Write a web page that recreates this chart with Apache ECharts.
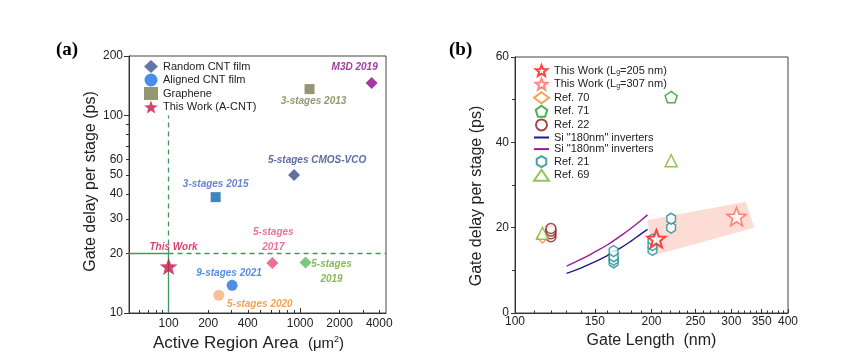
<!DOCTYPE html>
<html><head><meta charset="utf-8">
<script src="https://cdn.jsdelivr.net/npm/echarts@6/dist/echarts.min.js"></script>
<style>html,body{margin:0;padding:0;background:#fff}#c{width:865px;height:362px}</style>
</head><body><div id="c"></div>
<script>
// ---------- Panel (a) data ----------
const randomCNT_x = [900, 3500, 615, 1100];
const randomCNT_y = [50, 146, 17.9, 18];
const randomCNT_labels = ['5-stages CMOS-VCO', 'M3D 2019', '5-stages\n2017', '5-stages\n2019'];
const alignedCNT_x = [304, 241];
const alignedCNT_y = [13.8, 12.3];
const alignedCNT_labels = ['9-stages 2021', '5-stages 2020'];
const graphene_x = [1180, 228];
const graphene_y = [136, 38.6];
const graphene_labels = ['3-stages 2013', '3-stages 2015'];
const thisWorkA_x = [100];
const thisWorkA_y = [17.2];
const thisWorkA_labels = ['This Work'];
const refAreaX = 100;      // threshold area (µm²)
const refDelayY = 20;      // threshold delay (ps)
const aXLabels = [100, 200, 400, 1000, 2000, 4000];
const aYLabels = [10, 20, 30, 40, 50, 60, 100, 200];

// ---------- Panel (b) data ----------
const tw205_x = [205], tw205_y = [17.4];
const tw307_x = [308], tw307_y = [22.6];
const ref70_x = [115], ref70_y = [17.7];
const ref71_x = [221], ref71_y = [50.6];
const ref22_x = [120, 120, 120, 120], ref22_y = [17.9, 18.6, 19.2, 19.8];
const siA_x = [130, 140, 150, 160, 170, 180, 190, 196];
const siA_y = [9.3, 10.6, 12.0, 13.5, 15.1, 16.8, 18.6, 19.6];
const siB_x = [130, 140, 150, 160, 170, 180, 190, 196];
const siB_y = [11.0, 12.6, 14.3, 16.0, 17.9, 19.8, 21.8, 23.0];
const ref21_x = [165, 165, 165, 165, 201, 201, 201, 221, 221];
const ref21_y = [11.9, 12.5, 13.3, 14.5, 14.8, 15.9, 17.2, 20.0, 22.1];
const ref69_x = [115, 221], ref69_y = [18.7, 35.7];
const band_x = [196, 323, 337, 201], band_y = [21.8, 26.1, 20.0, 13.4];
const bXLabels = [100, 150, 200, 250, 300, 350, 400];
const bNames = ['This Work (Lg=205 nm)', 'This Work (Lg=307 nm)', 'Ref. 70', 'Ref. 71', 'Ref. 22',
  'Si "180nm" inverters', 'Si "180nm" inverters\u200b', 'Ref. 21', 'Ref. 69'];

// ---------- styles ----------
const FONT = 'Liberation Sans, Arial, sans-serif';
const zip = (xs, ys) => xs.map((x, i) => [x, ys[i]]);
function starPath() {
  let p = [];
  for (let i = 0; i < 10; i++) {
    const a = (-90 + i * 36) * Math.PI / 180, r = i % 2 ? 0.42 : 1;
    p.push((i ? 'L' : 'M') + (r * Math.cos(a)).toFixed(3) + ',' + (r * Math.sin(a)).toFixed(3));
  }
  return 'path://' + p.join(' ') + ' Z';
}
const STAR = starPath();
const HEX = 'path://M0,-1 L0.866,-0.5 L0.866,0.5 L0,1 L-0.866,0.5 L-0.866,-0.5 Z';
const PENT = (() => { let p = []; for (let i = 0; i < 5; i++) { const a = (-90 + i * 72) * Math.PI / 180; p.push((i ? 'L' : 'M') + Math.cos(a).toFixed(3) + ',' + Math.sin(a).toFixed(3)); } return 'path://' + p.join(' ') + ' Z'; })();

const aColors = {
  '5-stages CMOS-VCO': ['#3b4b8c', '#34478a'], 'M3D 2019': ['#8c0a8c', '#8c0a8c'],
  '5-stages\n2017': ['#e84d7a', '#e84d7a'], '5-stages\n2019': ['#5cb85c', '#6aa82a'],
  '9-stages 2021': ['#2a6fe0', '#2a6fe0'], '5-stages 2020': ['#f5b07f', '#f28c28'],
  '3-stages 2013': ['#7b7d4f', '#7b7d4f'], '3-stages 2015': ['#1267ad', '#3f66c4'],
  'This Work': ['#c8174a', '#c8174a']
};
const aOffsets = {
  '5-stages CMOS-VCO': [23, -15], 'M3D 2019': [-17, -16], '5-stages\n2017': [1, -23], '5-stages\n2019': [26, 9],
  '9-stages 2021': [-3, -12], '5-stages 2020': [41, 9], '3-stages 2013': [4, 12], '3-stages 2015': [0, -13],
  'This Work': [5, -19]
};
function aItems(xs, ys, labels) {
  return xs.map((x, i) => {
    const lb = labels[i], c = aColors[lb];
    return {
      value: [x, ys[i]], itemStyle: { color: c[0] },
      label: { show: true, formatter: lb, position: 'inside', offset: aOffsets[lb], color: c[1],
        fontSize: 10, fontWeight: 'bold', fontStyle: 'italic', fontFamily: FONT, lineHeight: 15, align: 'center' }
    };
  });
}
function minorVals(majors, lo, hi, steps) {
  const out = [];
  steps.forEach(v => { if (v >= lo && v <= hi && majors.indexOf(v) < 0) out.push(v); });
  return out;
}
const aXMinor = minorVals([100, 1000], 50, 4500, [60, 70, 80, 90, 200, 300, 400, 500, 600, 700, 800, 900, 2000, 3000, 4000]);
const aYMinor = minorVals([10, 100], 10, 200, [20, 30, 40, 50, 60, 70, 80, 90]);
const bXMinor = []; for (let v = 110; v < 400; v += 10) if (v % 50) bXMinor.push(v);

const axisLineStyle = { color: '#333', width: 1 };
const labelStyle = { color: '#222', fontSize: 12, fontFamily: FONT };
const hideSym = { opacity: 0 };

const option = {
  animation: false,
  backgroundColor: '#fff',
  title: [
    { text: '(a)', left: 51, top: 36, textStyle: { fontFamily: 'Liberation Serif, Times New Roman, serif', fontWeight: 'bold', fontSize: 19, color: '#000' } },
    { text: '(b)', left: 444, top: 36, textStyle: { fontFamily: 'Liberation Serif, Times New Roman, serif', fontWeight: 'bold', fontSize: 19, color: '#000' } }
  ],
  grid: [
    { left: 129, top: 56, width: 257, height: 257, show: true, borderColor: '#444', borderWidth: 1 },
    { left: 515, top: 57, width: 273, height: 256, show: true, borderColor: '#444', borderWidth: 1 }
  ],
  legend: [
    { orient: 'vertical', left: 139, top: 55, itemWidth: 14, itemHeight: 13, itemGap: 0.5,
      data: ['Random CNT film', 'Aligned CNT film', 'Graphene', 'This Work (A-CNT)'],
      textStyle: { fontSize: 11, fontFamily: FONT, color: '#222' } },
    { orient: 'vertical', left: 528, top: 59, itemWidth: 15, itemHeight: 11, itemGap: 0.6,
      data: bNames.map((n, i) => (i === 5 || i === 6) ? { name: n, itemStyle: hideSym } : n),
      formatter: function (n) {
        if (n.indexOf('This Work (Lg') === 0) return '{n|This Work (L}{s|g}{n|' + n.slice(13) + '}';
        return n.replace('\u200b', '');
      },
      textStyle: { fontSize: 11, fontFamily: FONT, color: '#222',
        rich: { n: { fontSize: 11, fontFamily: FONT, color: '#222' }, s: { fontSize: 7, fontFamily: FONT, color: '#222', verticalAlign: 'bottom', padding: [4, 0, 0, 0] } } } }
  ],
  xAxis: [
    { type: 'log', gridIndex: 0, min: 50, max: 4500, position: 'bottom',
      name: 'Active Region Area  {n|(μm}{s|2}{n|)}', nameLocation: 'middle', nameGap: 21,
      nameTextStyle: { fontSize: 17, fontFamily: FONT, color: '#222', padding: [0, 18, 0, 0],
        rich: { n: { fontSize: 15, fontFamily: FONT, color: '#222' }, s: { fontSize: 9, fontFamily: FONT, color: '#222', verticalAlign: 'top', padding: [0, 0, 8, 0] } } },
      axisLine: { lineStyle: axisLineStyle }, splitLine: { show: false },
      axisTick: { inside: true, length: 5, customValues: [100, 1000], lineStyle: axisLineStyle },
      axisLabel: { customValues: aXLabels, formatter: v => String(Math.round(v)), margin: 5, ...labelStyle } },
    { type: 'log', gridIndex: 0, min: 50, max: 4500, position: 'bottom', axisLine: { show: false }, splitLine: { show: false },
      axisTick: { inside: true, length: 3, customValues: aXMinor, lineStyle: axisLineStyle }, axisLabel: { show: false } },
    { type: 'log', gridIndex: 1, min: 100, max: 400, position: 'bottom',
      name: 'Gate Length  (nm)', nameLocation: 'middle', nameGap: 20,
      nameTextStyle: { fontSize: 16, fontFamily: FONT, color: '#222' },
      axisLine: { lineStyle: axisLineStyle }, splitLine: { show: false },
      axisTick: { inside: true, length: 4, customValues: bXLabels, lineStyle: axisLineStyle },
      axisLabel: { customValues: bXLabels, formatter: v => String(Math.round(v)), margin: 3, ...labelStyle } },
    { type: 'log', gridIndex: 1, min: 100, max: 400, position: 'bottom', axisLine: { show: false }, splitLine: { show: false },
      axisTick: { inside: true, length: 2.5, customValues: bXMinor, lineStyle: axisLineStyle }, axisLabel: { show: false } }
  ],
  yAxis: [
    { type: 'log', gridIndex: 0, min: 10, max: 200, position: 'left',
      name: 'Gate delay per stage (ps)', nameLocation: 'middle', nameGap: 26,
      nameTextStyle: { fontSize: 16, fontFamily: FONT, color: '#222', padding: [0, 0, 0, 6] },
      axisLine: { lineStyle: axisLineStyle }, splitLine: { show: false },
      axisTick: { length: 5, customValues: [10, 100, 200], lineStyle: axisLineStyle },
      axisLabel: { customValues: aYLabels, formatter: v => String(Math.round(v)), margin: 6, ...labelStyle } },
    { type: 'log', gridIndex: 0, min: 10, max: 200, position: 'left', axisLine: { show: false }, splitLine: { show: false },
      axisTick: { length: 3, customValues: aYMinor, lineStyle: axisLineStyle }, axisLabel: { show: false } },
    { type: 'value', gridIndex: 1, min: 0, max: 60, interval: 20, position: 'left',
      name: 'Gate delay per stage (ps)', nameLocation: 'middle', nameGap: 30,
      nameTextStyle: { fontSize: 16, fontFamily: FONT, color: '#222', padding: [0, 22, 0, 0] },
      axisLine: { show: true, lineStyle: axisLineStyle }, splitLine: { show: false },
      axisTick: { show: true, length: 4, lineStyle: axisLineStyle },
      minorTick: { show: true, splitNumber: 2, length: 3, lineStyle: axisLineStyle },
      axisLabel: { margin: 6, ...labelStyle } }
  ],
  series: [
    // ----- panel (a) -----
    { name: 'Random CNT film', type: 'scatter', xAxisIndex: 0, yAxisIndex: 0, symbol: 'diamond', symbolSize: 12, symbolKeepAspect: true,
      itemStyle: { color: '#3f5197' }, data: aItems(randomCNT_x, randomCNT_y, randomCNT_labels), z: 4 },
    { name: 'Aligned CNT film', type: 'scatter', xAxisIndex: 0, yAxisIndex: 0, symbol: 'circle', symbolSize: 11, symbolKeepAspect: true,
      itemStyle: { color: '#1a73e8' }, data: aItems(alignedCNT_x, alignedCNT_y, alignedCNT_labels), z: 4 },
    { name: 'Graphene', type: 'scatter', xAxisIndex: 0, yAxisIndex: 0, symbol: 'rect', symbolSize: 10, symbolKeepAspect: true,
      itemStyle: { color: '#7b7d4f' }, data: aItems(graphene_x, graphene_y, graphene_labels), z: 4 },
    { name: 'This Work (A-CNT)', type: 'scatter', xAxisIndex: 0, yAxisIndex: 0, symbol: STAR, symbolSize: 18, symbolKeepAspect: true,
      itemStyle: { color: '#c8174a' }, data: aItems(thisWorkA_x, thisWorkA_y, thisWorkA_labels), z: 5,
      markLine: { silent: true, symbol: 'none', label: { show: false }, animation: false,
        data: [
          [{ coord: [50, refDelayY], lineStyle: { type: 'solid' } }, { coord: [refAreaX, refDelayY] }],
          [{ coord: [refAreaX, refDelayY], lineStyle: { type: [5, 4] } }, { coord: [4500, refDelayY] }],
          [{ coord: [refAreaX, 10], lineStyle: { type: 'solid' } }, { coord: [refAreaX, refDelayY] }],
          [{ coord: [refAreaX, refDelayY], lineStyle: { type: [5, 4] } }, { coord: [refAreaX, 100] }]
        ],
        lineStyle: { color: '#3c9a5c', width: 1.3 } } },
    // ----- panel (b) -----
    { name: 'band', type: 'custom', xAxisIndex: 2, yAxisIndex: 2, silent: true, z: 1,
      data: [0],
      renderItem: function (params, api) {
        const pts = band_x.map((x, i) => api.coord([x, band_y[i]]));
        return { type: 'polygon', shape: { points: pts }, style: { fill: '#fddcd6' } };
      } },
    { name: bNames[0], type: 'scatter', xAxisIndex: 2, yAxisIndex: 2, symbol: STAR, symbolSize: 18, symbolKeepAspect: true, z: 6,
      itemStyle: { color: '#fff', borderColor: '#ff1414', borderWidth: 2 }, data: zip(tw205_x, tw205_y) },
    { name: bNames[1], type: 'scatter', xAxisIndex: 2, yAxisIndex: 2, symbol: STAR, symbolSize: 19, symbolKeepAspect: true, z: 6,
      itemStyle: { color: '#fff', borderColor: '#ff6a5a', borderWidth: 1.6 }, data: zip(tw307_x, tw307_y) },
    { name: bNames[2], type: 'scatter', xAxisIndex: 2, yAxisIndex: 2, symbol: 'diamond', symbolSize: 11, symbolKeepAspect: true, z: 3,
      itemStyle: { color: '#fff', borderColor: '#f28c28', borderWidth: 1.5 }, data: zip(ref70_x, ref70_y) },
    { name: bNames[3], type: 'scatter', xAxisIndex: 2, yAxisIndex: 2, symbol: PENT, symbolSize: 12, symbolKeepAspect: true, z: 3,
      itemStyle: { color: '#fff', borderColor: '#1f9a2a', borderWidth: 1.5 }, data: zip(ref71_x, ref71_y) },
    { name: bNames[4], type: 'scatter', xAxisIndex: 2, yAxisIndex: 2, symbol: 'circle', symbolSize: 10, symbolKeepAspect: true, z: 3,
      itemStyle: { color: '#fff', borderColor: '#8b1a1a', borderWidth: 1.5 }, data: zip(ref22_x, ref22_y) },
    { name: bNames[5], type: 'line', xAxisIndex: 2, yAxisIndex: 2, symbol: 'none', smooth: true, z: 2,
      lineStyle: { color: '#1a1a8c', width: 1.4 }, itemStyle: { color: '#1a1a8c' }, data: zip(siA_x, siA_y) },
    { name: bNames[6], type: 'line', xAxisIndex: 2, yAxisIndex: 2, symbol: 'none', smooth: true, z: 2,
      lineStyle: { color: '#9a1a9a', width: 1.4 }, itemStyle: { color: '#9a1a9a' }, data: zip(siB_x, siB_y) },
    { name: bNames[7], type: 'scatter', xAxisIndex: 2, yAxisIndex: 2, symbol: HEX, symbolSize: [10, 11], symbolKeepAspect: true, z: 3,
      itemStyle: { color: '#fff', borderColor: '#17908f', borderWidth: 1.5 }, data: zip(ref21_x, ref21_y) },
    { name: bNames[8], type: 'scatter', xAxisIndex: 2, yAxisIndex: 2, symbol: 'triangle', symbolSize: 12, symbolKeepAspect: true, z: 4,
      itemStyle: { color: '#fff', borderColor: '#7ab52a', borderWidth: 1.5 }, data: zip(ref69_x, ref69_y) }
  ]
};
const chart = echarts.init(document.getElementById('c'), null, { renderer: 'canvas' });
chart.setOption(option);
</script></body></html>
